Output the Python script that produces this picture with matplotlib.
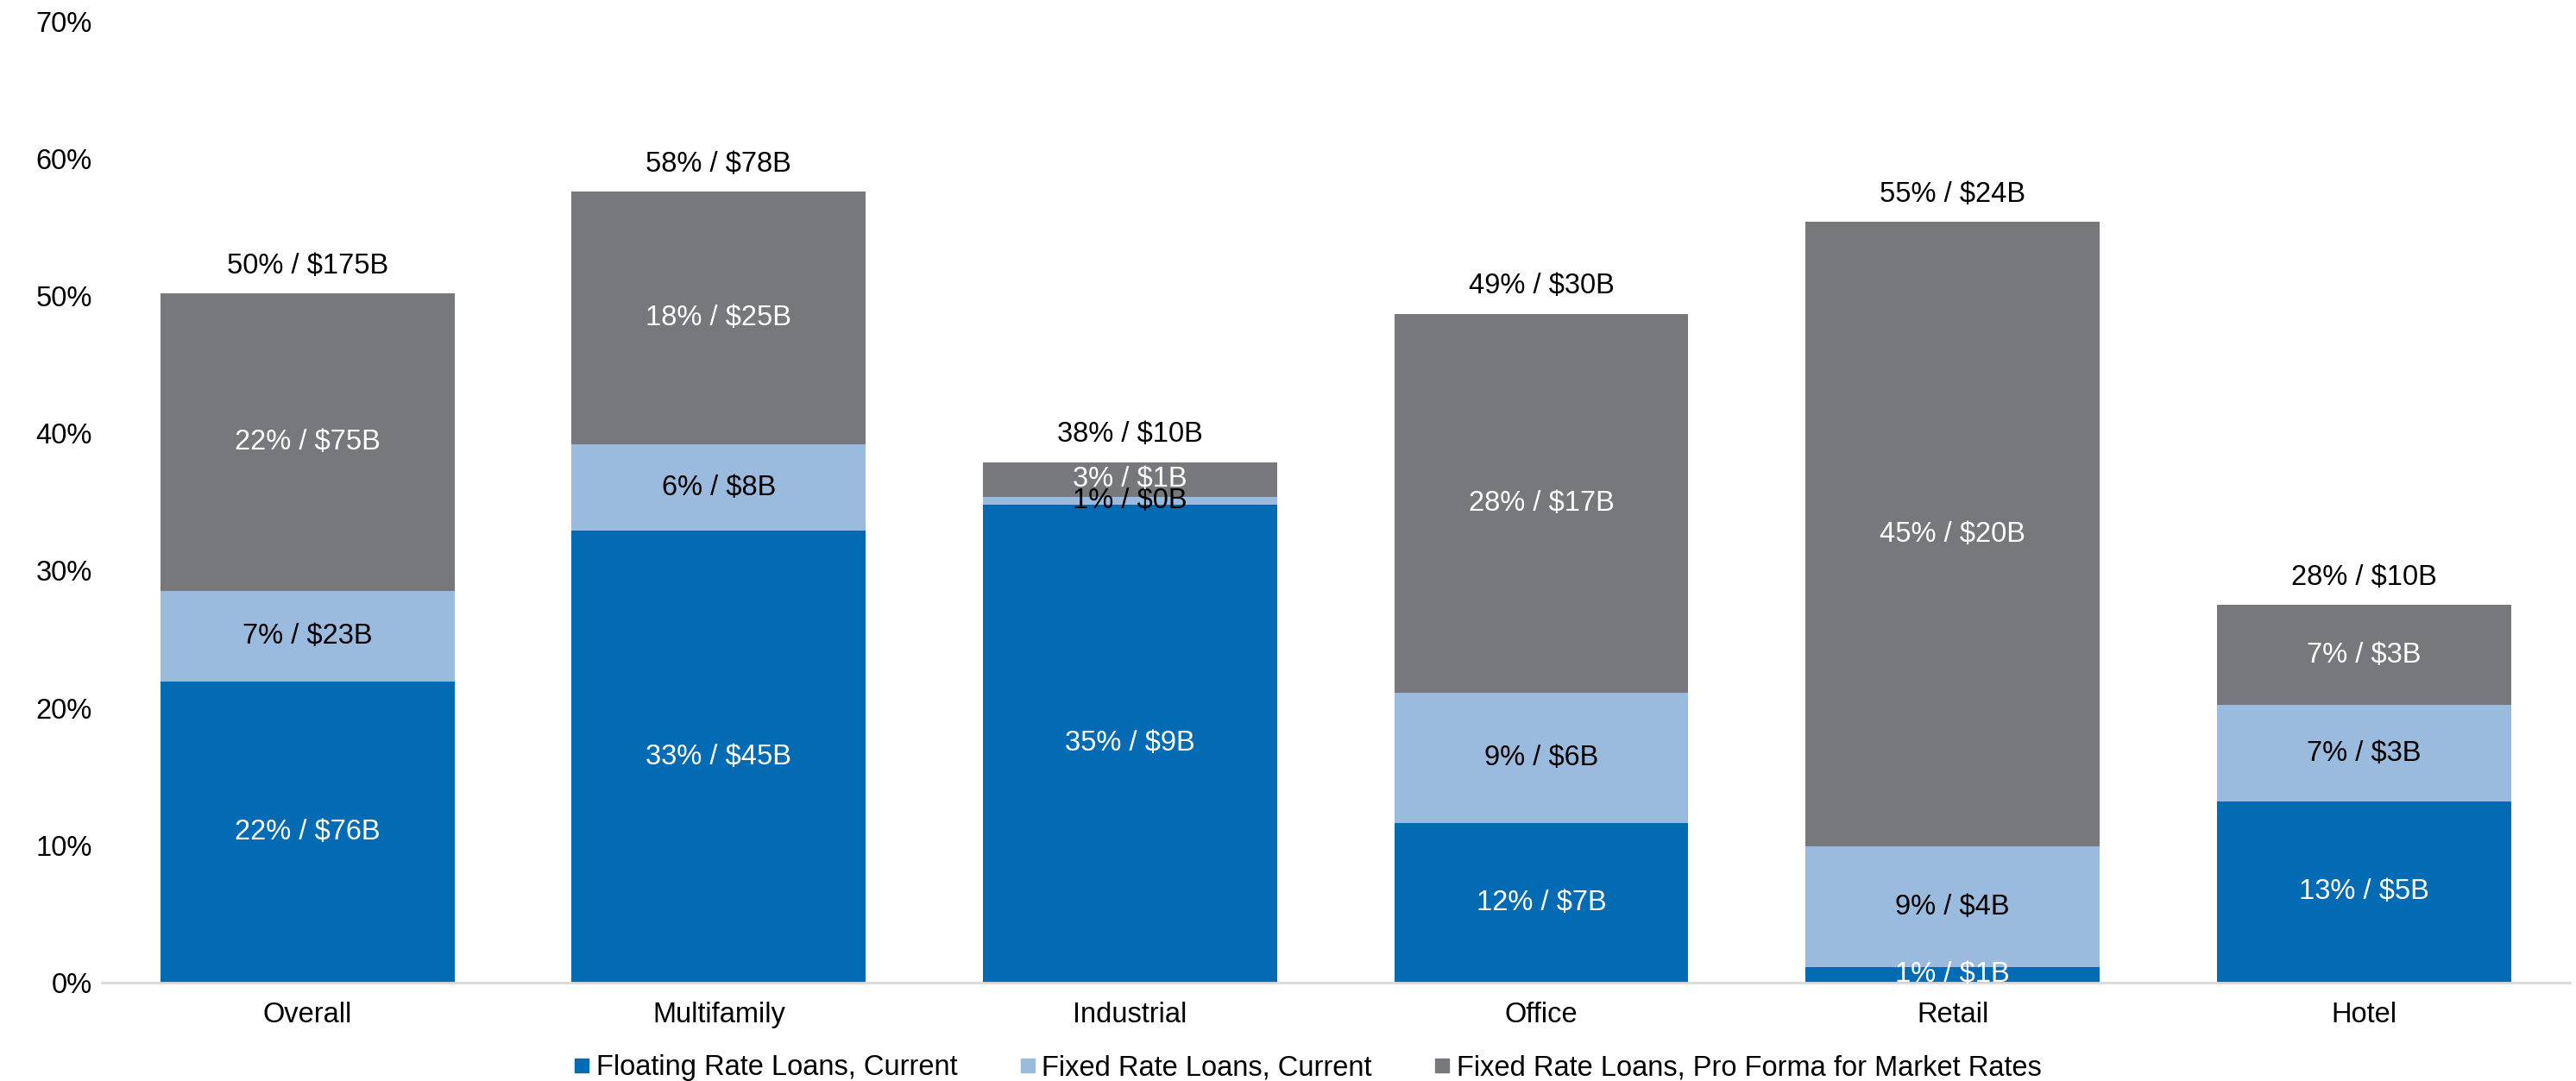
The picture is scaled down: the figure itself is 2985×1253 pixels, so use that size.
import matplotlib
matplotlib.use("Agg")
import matplotlib.pyplot as plt
from matplotlib.lines import Line2D
import numpy as np

plt.rcParams['font.family'] = ['Liberation Sans', 'DejaVu Sans']

categories = ["Overall", "Multifamily", "Industrial", "Office", "Retail", "Hotel"]
floating = [21.9, 32.9, 34.8, 11.6, 1.1, 13.2]
fixed = [6.6, 6.3, 0.6, 9.5, 8.8, 7.0]
proforma = [21.7, 18.4, 2.5, 27.6, 45.5, 7.3]

floating_labels = ["22% / $76B", "33% / $45B", "35% / $9B", "12% / $7B", "1% / $1B", "13% / $5B"]
fixed_labels = ["7% / $23B", "6% / $8B", "1% / $0B", "9% / $6B", "9% / $4B", "7% / $3B"]
proforma_labels = ["22% / $75B", "18% / $25B", "3% / $1B", "28% / $17B", "45% / $20B", "7% / $3B"]
total_labels = ["50% / $175B", "58% / $78B", "38% / $10B", "49% / $30B", "55% / $24B", "28% / $10B"]

series_names = ["Floating Rate Loans, Current", "Fixed Rate Loans, Current",
                "Fixed Rate Loans, Pro Forma for Market Rates"]
colors = ["#036BB4", "#9BBBDE", "#77787B"]
text_colors = ["white", "black", "white"]

yticks = [0, 10, 20, 30, 40, 50, 60, 70]
ytick_labels = ["0%", "10%", "20%", "30%", "40%", "50%", "60%", "70%"]

FS = 23.5

fig = plt.figure(figsize=(29.85, 12.53), dpi=100)
ax = fig.add_axes([0.0395, 0.0912, 0.958, 0.8888])

x = np.arange(len(categories))
width = 0.715
bottom = np.zeros(len(categories))
all_vals = [floating, fixed, proforma]
all_labels = [floating_labels, fixed_labels, proforma_labels]
for vals, labs, col, tcol, name in zip(all_vals, all_labels, colors, text_colors, series_names):
    vals = np.array(vals)
    ax.bar(x, vals, width, bottom=bottom, color=col, label=name, zorder=2)
    for i in range(len(x)):
        ax.text(x[i], bottom[i] + vals[i] / 2, labs[i], ha='center', va='center',
                color=tcol, fontsize=FS, zorder=3)
    bottom = bottom + vals

for i in range(len(x)):
    ax.annotate(total_labels[i], (x[i], bottom[i]), xytext=(0, 23), textcoords='offset points',
                ha='center', va='center', fontsize=FS, color='black')

ax.set_xlim(-0.5, len(categories) - 0.5)
ax.set_ylim(0, 70)
ax.set_yticks(yticks)
ax.set_yticklabels(ytick_labels)
ax.set_xticks(x)
ax.set_xticklabels(categories)
ax.tick_params(axis='y', length=0, pad=8, labelsize=FS)
ax.tick_params(axis='x', length=0, pad=16, labelsize=FS)
for s in ['top', 'right', 'left']:
    ax.spines[s].set_visible(False)
ax.spines['bottom'].set_color('#D9D9D9')
ax.spines['bottom'].set_linewidth(2)

handles = [Line2D([0], [0], marker='s', linestyle='none', markersize=12,
                  markerfacecolor=c, markeredgecolor=c) for c in colors]
fig.legend(handles, series_names, loc='center', bbox_to_anchor=(0.507, 0.012), ncol=3,
           frameon=False, fontsize=FS, handletextpad=0.1, columnspacing=2.1,
           handlelength=0.8, borderaxespad=0, borderpad=0)

fig.savefig("out.png", dpi=100)
